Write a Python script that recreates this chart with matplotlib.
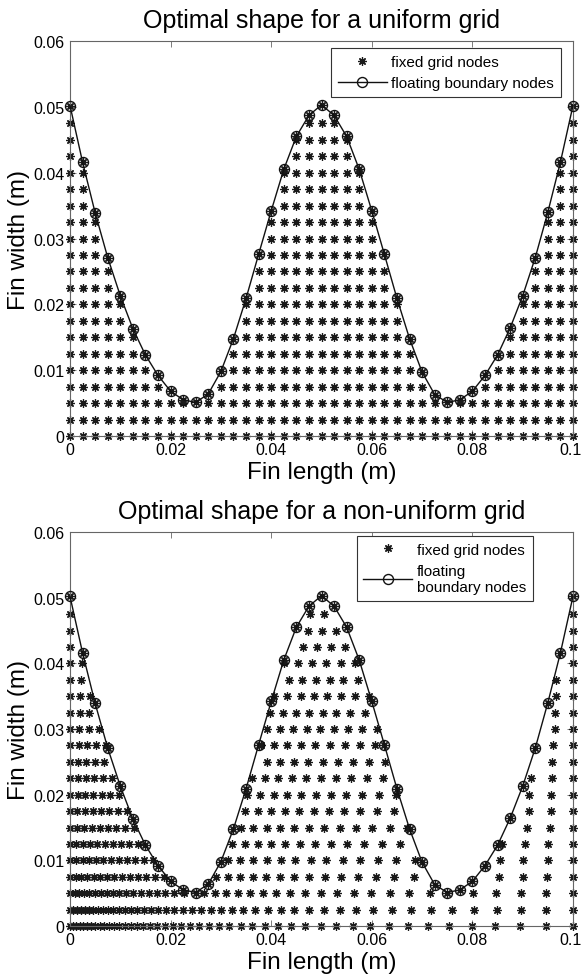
import numpy as np
import matplotlib
matplotlib.use('Agg')
import matplotlib.pyplot as plt
import matplotlib.transforms as mtransforms
from matplotlib.lines import Line2D

plt.rcParams['font.family'] = ['Liberation Sans', 'DejaVu Sans']

# ---------------- data ----------------
# floating boundary nodes (fin profile)
boundary_x = [0.0, 0.0025, 0.005, 0.0075, 0.01, 0.0125, 0.015, 0.0175, 0.02, 0.0225,
              0.025, 0.0275, 0.03, 0.0325, 0.035, 0.0375, 0.04, 0.0425, 0.045, 0.0475,
              0.05, 0.0525, 0.055, 0.0575, 0.06, 0.0625, 0.065, 0.0675, 0.07, 0.0725,
              0.075, 0.0775, 0.08, 0.0825, 0.085, 0.0875, 0.09, 0.0925, 0.095, 0.0975, 0.1]
boundary_w = [0.0502, 0.0416, 0.0339, 0.0271, 0.0213, 0.0163, 0.0123, 0.0092, 0.0068, 0.0055,
              0.0051, 0.0064, 0.0098, 0.0148, 0.0209, 0.0276, 0.0342, 0.0405, 0.0455, 0.0487,
              0.0503, 0.0487, 0.0455, 0.0405, 0.0342, 0.0276, 0.0209, 0.0148, 0.0097, 0.0063,
              0.0051, 0.0055, 0.0068, 0.0092, 0.0123, 0.0164, 0.0213, 0.0271, 0.0340, 0.0416, 0.0502]

# uniform grid: columns coincide with boundary-node x positions, rows every 2.5 mm
uniform_cols = boundary_x
grid_rows = [0.0, 0.0025, 0.005, 0.0075, 0.01, 0.0125, 0.015, 0.0175, 0.02, 0.0225,
             0.025, 0.0275, 0.03, 0.0325, 0.035, 0.0375, 0.04, 0.0425, 0.045, 0.0475]

# non-uniform grid: per-row node spacing read at the left end (x=0) and right end (x=0.1)
row_first_spacing = [0.0006, 0.0007, 0.0009, 0.0011, 0.0012, 0.0013, 0.0014, 0.0015, 0.0015, 0.0016,
                     0.0016, 0.0017, 0.0019, 0.0019, 0.0020, 0.0022, 0.0023, 0.0024, 0.0025, 0.0025]
row_last_spacing = [0.0054, 0.0053, 0.0053, 0.0051, 0.0050, 0.0049, 0.0046, 0.0045, 0.0044, 0.0043,
                    0.0042, 0.0040, 0.0036, 0.0035, 0.0034, 0.0033, 0.0033, 0.0032, 0.0031, 0.0030]

fin_length = 0.1
xticks = [0, 0.02, 0.04, 0.06, 0.08, 0.1]
xtick_labels = ['0', '0.02', '0.04', '0.06', '0.08', '0.1']
yticks = [0, 0.01, 0.02, 0.03, 0.04, 0.05, 0.06]
ytick_labels = ['0', '0.01', '0.02', '0.03', '0.04', '0.05', '0.06']

titles = ['Optimal shape for a uniform grid', 'Optimal shape for a non-uniform grid']
xlabel = 'Fin length (m)'
ylabel = 'Fin width (m)'
legend_labels_top = ['fixed grid nodes', 'floating boundary nodes']
legend_labels_bot = ['fixed grid nodes', 'floating\nboundary nodes']

# ---------------- grid construction ----------------
bx = np.array(boundary_x)
bw = np.array(boundary_w)
tol = 0.0003


def uniform_nodes():
    xs, ys = [], []
    for y in grid_rows:
        for x in uniform_cols:
            if y < np.interp(x, bx, bw) - tol:
                xs.append(x); ys.append(y)
    return xs, ys


def nonuniform_nodes():
    xs, ys = [], []
    for y, a, l in zip(grid_rows, row_first_spacing, row_last_spacing):
        r = (fin_length - a) / (fin_length - l)
        n = int(round(1 + np.log(l / a) / np.log(r)))
        k = np.arange(n + 1)
        row_x = fin_length * (r ** k - 1) / (r ** n - 1)
        for x in row_x:
            if y < np.interp(x, bx, bw) - tol:
                xs.append(x); ys.append(y)
    return xs, ys


# ---------------- drawing ----------------
fig = plt.figure(figsize=(5.82, 9.79), dpi=100)
ax1 = fig.add_axes([70 / 582, 1 - 437 / 979, 503 / 582, 395 / 979])
ax2 = fig.add_axes([70 / 582, 1 - 927 / 979, 503 / 582, 394 / 979])

star = (8, 2, 0)
star_kw = dict(linestyle='none', marker=star, markersize=6, markeredgewidth=0.9,
               color='#1a1a1a')
bnd_kw = dict(color='#111111', linewidth=1.0, marker='o', markersize=7.2,
              markerfacecolor='none', markeredgecolor='#111111', markeredgewidth=1.0)

legend_anchor = [(0.976, 0.982), (0.9205, 0.990)]

for ax, nodes, title, leg_labels, anchor in [
        (ax1, uniform_nodes(), titles[0], legend_labels_top, legend_anchor[0]),
        (ax2, nonuniform_nodes(), titles[1], legend_labels_bot, legend_anchor[1])]:
    xs, ys = nodes
    ax.plot(xs, ys, zorder=2, clip_on=False, **star_kw)
    ax.plot(boundary_x, boundary_w, zorder=2, clip_on=False, **star_kw)
    ax.plot(boundary_x, boundary_w, zorder=3, clip_on=False, **bnd_kw)

    ax.set_xlim(0, 0.1)
    ax.set_ylim(0, 0.06)
    ax.set_xticks(xticks)
    ax.set_xticklabels(xtick_labels)
    ax.set_yticks(yticks)
    ax.set_yticklabels(ytick_labels)
    ax.tick_params(direction='in', top=True, right=True, length=4, width=0.6,
                   color='#666666', labelsize=11.5, pad=4)
    # keep the last x tick label inside the figure edge
    last = ax.get_xticklabels()[-1]
    last.set_transform(last.get_transform() +
                       mtransforms.ScaledTranslation(-3 / 100, 0, fig.dpi_scale_trans))
    for sp in ax.spines.values():
        sp.set_color('#666666')
        sp.set_linewidth(0.8)
    ax.set_title(title, fontsize=18, pad=10)
    ax.set_xlabel(xlabel, fontsize=17.5, labelpad=3)
    ax.set_ylabel(ylabel, fontsize=17.5, labelpad=2)

    h1 = Line2D([], [], **star_kw)
    h2 = Line2D([], [], **bnd_kw)
    leg = ax.legend([h1, h2], leg_labels, loc='upper right', bbox_to_anchor=anchor,
                    fontsize=11, handlelength=3.2, borderaxespad=0.0, fancybox=False,
                    framealpha=1, edgecolor='#333333', borderpad=0.45,
                    labelspacing=0.45, handletextpad=0.3)
    leg.get_frame().set_linewidth(0.8)
    leg.set_zorder(5)

fig.savefig('out.png', dpi=100)
